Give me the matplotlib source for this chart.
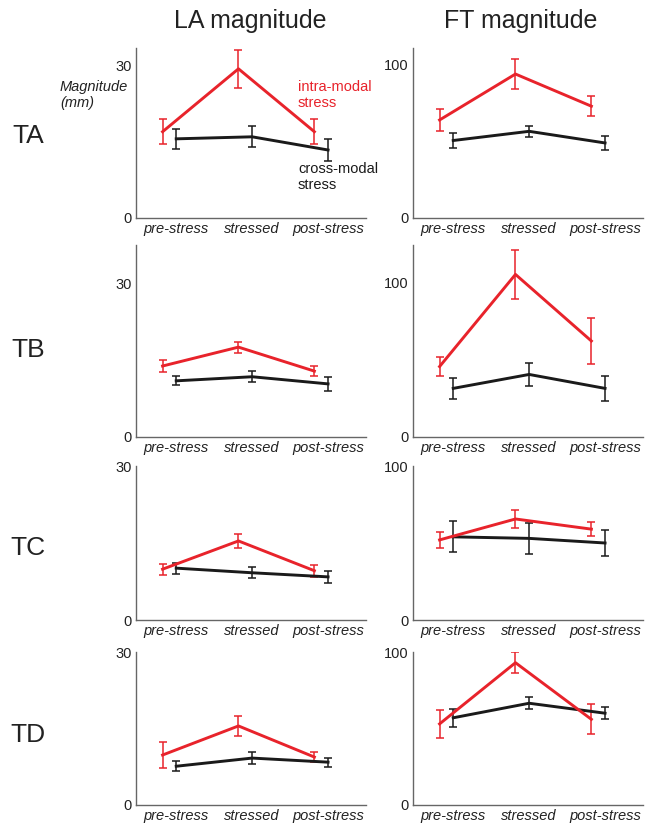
import numpy as np
import matplotlib
matplotlib.use("Agg")
import matplotlib.pyplot as plt

plt.rcParams['font.family'] = ['Liberation Sans', 'DejaVu Sans']

red = '#e8232b'
blk = '#1a1a1a'

cats = ['pre-stress', 'stressed', 'post-stress']
rows = ['TA', 'TB', 'TC', 'TD']

# LA magnitude (mm)
la_intra = [[17.0, 29.4, 17.0], [13.9, 17.6, 12.9], [9.9, 15.4, 9.6], [9.8, 15.5, 9.4]]
la_intra_err = [[2.5, 3.8, 2.5], [1.2, 1.1, 1.0], [1.1, 1.4, 1.2], [2.5, 2.0, 1.0]]
la_cross = [[15.6, 16.0, 13.4], [11.0, 11.8, 10.4], [10.1, 9.2, 8.4], [7.6, 9.2, 8.4]]
la_cross_err = [[2.0, 2.1, 2.2], [0.9, 1.1, 1.35], [1.1, 1.1, 1.1], [1.0, 1.1, 0.9]]

# FT magnitude
ft_intra = [[64, 94, 73], [45.5, 105, 62], [52, 65.6, 59], [53, 93, 56]]
ft_intra_err = [[7, 9.5, 6.6], [6, 15.7, 14.8], [5.2, 6, 4.5], [9.3, 7, 9.7]]
ft_cross = [[50.6, 56.6, 49], [31.4, 40.4, 31.4], [54, 53, 50], [57, 66.5, 60]]
ft_cross_err = [[4.6, 3.6, 4.6], [7, 7.7, 8], [10, 10, 8.5], [5.8, 3.8, 4]]

la_ylim = [33.5, 37.6, 30, 30]
ft_ylim = [111, 124, 100, 100]

W, H = 650, 825
fig = plt.figure(figsize=(6.5, 8.25), dpi=100)

# axes boxes in pixels (top, bottom)
row_px = [(48, 218), (245, 437), (466, 620), (652, 805)]
col_px = [(136, 366), (413, 643)]
row_lab_y = [136, 350, 548, 735]

x = np.arange(3)
off = 0.18

def panel(ax, intra, ie, cross, ce, top, tick):
    ax.errorbar(x, cross, yerr=ce, color=blk, lw=2.1, elinewidth=1.1, capsize=3, capthick=1.1)
    ax.errorbar(x - off, intra, yerr=ie, color=red, lw=2.1, elinewidth=1.1, capsize=3, capthick=1.1)
    ax.set_xlim(-0.53, 2.5)
    ax.set_ylim(0, top)
    ax.set_yticks([0, tick])
    ax.set_xticks(x)
    ax.set_xticklabels(cats, fontstyle='italic', fontsize=10.5)
    ax.tick_params(length=0, labelsize=10.5, pad=3, colors='#222222')
    for s in ['top', 'right']:
        ax.spines[s].set_visible(False)
    for s in ['left', 'bottom']:
        ax.spines[s].set_color('#666666')
        ax.spines[s].set_linewidth(1.0)

for i in range(4):
    t, b = row_px[i]
    for j in range(2):
        l, r = col_px[j]
        ax = fig.add_axes([l / W, 1 - b / H, (r - l) / W, (b - t) / H])
        if j == 0:
            panel(ax, la_intra[i], la_intra_err[i], la_cross[i], la_cross_err[i], la_ylim[i], 30)
        else:
            panel(ax, ft_intra[i], ft_intra_err[i], ft_cross[i], ft_cross_err[i], ft_ylim[i], 100)
    fig.text(28 / W, 1 - row_lab_y[i] / H, rows[i], fontsize=19, ha='center', va='center', color='#222222')

fig.text(250 / W, 1 - 21 / H, 'LA magnitude', fontsize=18, ha='center', va='center', color='#222222')
fig.text(521 / W, 1 - 21 / H, 'FT magnitude', fontsize=18, ha='center', va='center', color='#222222')

fig.text(60 / W, 1 - 95 / H, 'Magnitude\n(mm)', fontsize=10.5, fontstyle='italic', ha='left', va='center',
         color='#222222', linespacing=1.2)
fig.text(298 / W, 1 - 95 / H, 'intra-modal\nstress', fontsize=10.5, ha='left', va='center', color=red,
         linespacing=1.15)
fig.text(298 / W, 1 - 177 / H, 'cross-modal\nstress', fontsize=10.5, ha='left', va='center', color=blk,
         linespacing=1.15)

fig.savefig('out.png', dpi=100)
